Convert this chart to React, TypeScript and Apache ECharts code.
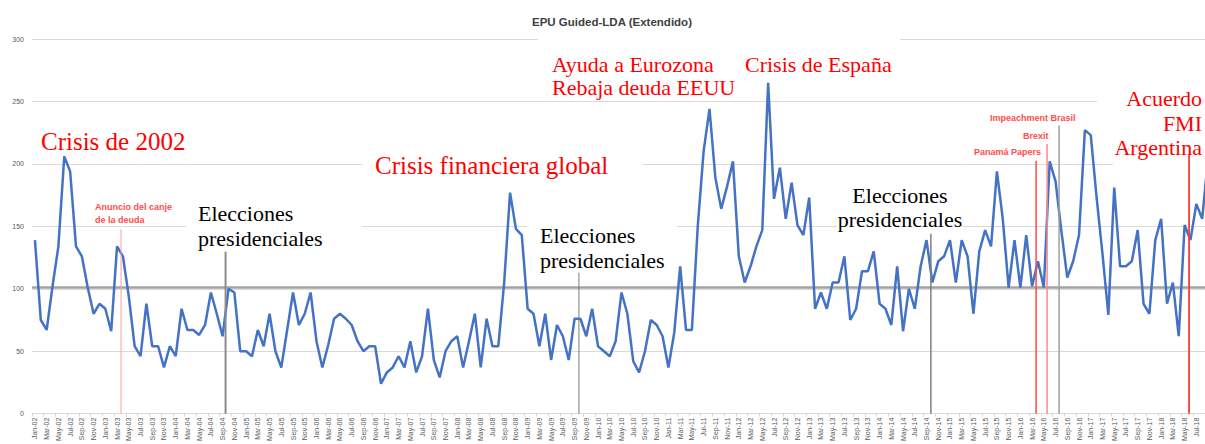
import React, { useEffect, useRef } from "react";
import * as echarts from "echarts";

// ---------- data ----------
const MONTHS = ["Jan", "Feb", "Mar", "Apr", "May", "Jun", "Jul", "Aug", "Sep", "Oct", "Nov", "Dec"];
const YEARS = ["02", "03", "04", "05", "06", "07", "08", "09", "10", "11", "12", "13", "14", "15", "16", "17", "18"];
const MONTH_COUNT = 201; // Jan-02 .. Sep-18
const LAST_LABELLED = 198; // Jul-18

const categories: string[] = [];
YEARS.forEach((y) => MONTHS.forEach((m) => categories.push(`${m}-${y}`)));
categories.length = MONTH_COUNT;

const epu2002_2004 = [139, 75, 67, 102, 134, 206, 194, 134, 126, 101, 80, 88, 84, 66, 134, 126, 94, 54, 46, 88, 54, 54, 37, 54, 46, 84, 67, 67, 63, 71, 97, 80, 62, 100];
const epu2004_2007 = [97, 50, 50, 46, 67, 54, 80, 50, 37, 67, 97, 71, 80, 97, 58, 37, 55, 76, 80, 76, 71, 58, 50, 54, 54, 24, 33, 37, 46, 37, 58, 33, 46];
const epu2007_2010 = [84, 43, 29, 50, 58, 62, 37, 58, 80, 37, 76, 54, 54, 105, 177, 148, 143, 84, 80, 54, 80, 43, 71, 62, 43, 76, 76, 62, 84, 54, 50, 46, 58];
const epu2010_2013 = [97, 80, 42, 33, 50, 75, 71, 62, 37, 65, 118, 67, 67, 150, 210, 244, 189, 164, 182, 202, 126, 105, 118, 134, 147, 265, 172, 197, 156, 185, 151, 143, 173, 84];
const epu2013_2015 = [97, 84, 105, 105, 126, 75, 84, 114, 114, 130, 88, 84, 71, 118, 66, 100, 84, 118, 139, 105, 122, 126, 139, 105, 139, 126, 80, 130, 147, 134, 194, 156, 101];
const epu2015_2018 = [139, 101, 143, 102, 122, 101, 202, 186, 146, 109, 122, 143, 227, 223, 173, 128, 79, 181, 118, 118, 122, 147, 88, 80, 139, 156, 88, 105, 62, 151, 139, 168, 156, 205];
const epu = [...epu2002_2004, ...epu2004_2007, ...epu2007_2010, ...epu2010_2013, ...epu2013_2015, ...epu2015_2018];

const MEAN = 101;

// events: fractional month index and height of the marker line
const eventNames = ["Anuncio del canje", "Elecciones 1", "Elecciones 2", "Elecciones 3", "Panamá Papers", "Brexit", "Impeachment Brasil", "Acuerdo FMI"];
const eventMonth = [14.68, 32.5, 92.74, 152.74, 170.68, 172.56, 174.6, 196.76];
const eventTop = [147.5, 129.6, 112.8, 144, 202.6, 216, 230.8, 207.4];

// ---------- styles ----------
const eventColors = ["#ff9c9c", "#8c8c8c", "#7a7a7a", "#7f7f7f", "#ff4a4a", "#ff8a8a", "#a0a0a0", "#ff3a3a"];
const eventWidths = [1, 2, 1, 1.5, 1.5, 1.5, 1.5, 1.8];

const SERIF = '"Liberation Serif", "DejaVu Serif", serif';
const SANS = '"Liberation Sans", Arial, sans-serif';

function txt(x: number, y: number, text: string, size: number, color: string, family: string, align = "left", weight = "normal") {
  return {
    type: "text",
    x,
    y,
    z: 10,
    style: {
      text,
      fill: color,
      fontSize: size,
      fontFamily: family,
      fontWeight: weight,
      align,
      textAlign: align,
      verticalAlign: "middle",
      textVerticalAlign: "middle",
    },
  };
}

function box(x: number, y: number, w: number, h: number) {
  return { type: "rect", z: 1, shape: { x, y, width: w, height: h }, style: { fill: "#ffffff" } };
}

export default function App() {
  const ref = useRef<HTMLDivElement>(null);

  useEffect(() => {
    if (!ref.current) return;
    const chart = echarts.init(ref.current, undefined, { renderer: "svg" });

    const eventSeries = eventNames.map((name, i) => ({
      name,
      type: "line",
      xAxisIndex: 1,
      yAxisIndex: 0,
      data: [
        [eventMonth[i], 0],
        [eventMonth[i], eventTop[i]],
      ],
      symbol: "none",
      silent: true,
      z: 4,
      lineStyle: { color: eventColors[i], width: eventWidths[i] },
    }));

    const RED = "#ff0000";
    const SMALLRED = "#ff4d4d";

    chart.setOption({
      animation: false,
      backgroundColor: "#ffffff",
      grid: { left: 32, right: 0, top: 39, bottom: 30, containLabel: false },
      xAxis: [
        {
          type: "category",
          data: categories,
          boundaryGap: true,
          axisLine: { lineStyle: { color: "#d9d9d9", width: 1 } },
          axisTick: { show: true, interval: 1, length: 3, lineStyle: { color: "#d9d9d9" } },
          axisLabel: {
            interval: (index: number) => index % 2 === 0 && index <= LAST_LABELLED,
            rotate: 90,
            fontSize: 7,
            color: "#595959",
            fontFamily: SANS,
            margin: 4,
          },
          splitLine: { show: false },
        },
        {
          type: "value",
          min: -0.5,
          max: MONTH_COUNT - 0.5,
          show: false,
          splitLine: { show: false },
        },
      ],
      yAxis: {
        type: "value",
        min: 0,
        max: 300,
        interval: 50,
        axisLine: { show: false },
        axisTick: { show: false },
        axisLabel: { fontSize: 7, color: "#595959", fontFamily: SANS, margin: 8 },
        splitLine: { lineStyle: { color: "#d9d9d9", width: 1 } },
      },
      series: [
        {
          name: "Media",
          type: "line",
          xAxisIndex: 1,
          data: [
            [-0.5, MEAN],
            [MONTH_COUNT - 0.5, MEAN],
          ],
          symbol: "none",
          silent: true,
          z: 2,
          lineStyle: { color: "#a3a3a3", width: 2.5 },
        },
        {
          name: "EPU",
          type: "line",
          data: epu,
          symbol: "none",
          z: 3,
          lineStyle: { color: "#4472c4", width: 2.5 },
        },
        ...eventSeries,
      ],
      graphic: [
        // white text boxes hiding grid lines
        box(186, 198, 176, 52),
        box(362, 148, 281, 32),
        box(527, 220, 150, 52),
        box(837, 182, 125, 50),
        box(538, 34, 362, 10),
        box(1097, 96, 120, 10),
        box(1113, 159, 105, 10),
        // title
        txt(612, 22, "EPU Guided-LDA (Extendido)", 11.5, "#404040", SANS, "center", "bold"),
        // big annotations
        txt(41, 141, "Crisis de 2002", 25, RED, SERIF),
        txt(375, 165, "Crisis financiera global", 25, RED, SERIF),
        txt(552, 64, "Ayuda a Eurozona", 22, RED, SERIF),
        txt(552, 87.5, "Rebaja deuda EEUU", 22, RED, SERIF),
        txt(745, 64, "Crisis de España", 22, RED, SERIF),
        txt(1202, 98.5, "Acuerdo", 22, RED, SERIF, "right"),
        txt(1202, 123, "FMI", 22, RED, SERIF, "right"),
        txt(1202, 147.5, "Argentina", 22, RED, SERIF, "right"),
        txt(198, 213, "Elecciones", 22, "#000000", SERIF),
        txt(198, 238, "presidenciales", 22, "#000000", SERIF),
        txt(540, 235, "Elecciones", 22, "#000000", SERIF),
        txt(540, 260, "presidenciales", 22, "#000000", SERIF),
        txt(900, 195.5, "Elecciones", 22, "#000000", SERIF, "center"),
        txt(900, 219.5, "presidenciales", 22, "#000000", SERIF, "center"),
        // small annotations
        txt(95, 206.5, "Anuncio del canje", 9, SMALLRED, SANS, "left", "bold"),
        txt(95, 220, "de la deuda", 9, SMALLRED, SANS, "left", "bold"),
        txt(990, 117.5, "Impeachment Brasil", 9, SMALLRED, SANS, "left", "bold"),
        txt(1023, 135.5, "Brexit", 9, SMALLRED, SANS, "left", "bold"),
        txt(974, 152, "Panamá Papers", 9, SMALLRED, SANS, "left", "bold"),
      ],
    });

    return () => chart.dispose();
  }, []);

  return (
    <div style={{ position: "absolute", left: 0, top: 0, width: 1205, height: 444, overflow: "hidden", background: "#ffffff" }}>
      <div ref={ref} style={{ width: 1211, height: 444 }} />
    </div>
  );
}
